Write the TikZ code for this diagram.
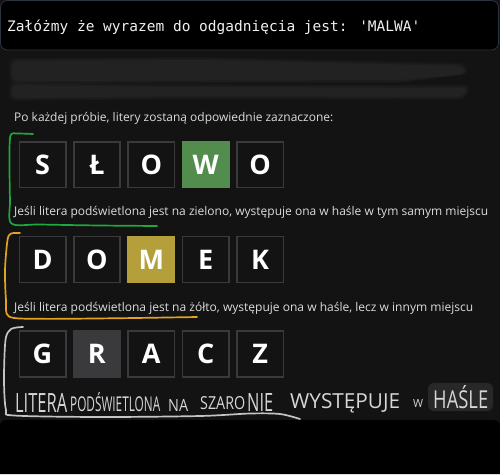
\documentclass[tikz,border=0pt]{standalone}
\usepackage{fontspec}
\setmainfont{Open Sans}
\newfontfamily\monof{DejaVu Sans Mono}
\newfontfamily\handf{Open Sans}
\usepackage{graphicx}
\definecolor{bgc}{HTML}{131313}
\definecolor{topb}{HTML}{2C3441}
\definecolor{titlec}{HTML}{F0F0F0}
\definecolor{blurc}{HTML}{222222}
\definecolor{tileb}{HTML}{3A3A3C}
\definecolor{wgreen}{HTML}{538D4E}
\definecolor{wyellow}{HTML}{B59F3B}
\definecolor{wgray}{HTML}{3A3A3C}
\definecolor{bodyc}{HTML}{DCDCDC}
\definecolor{greenl}{HTML}{1FA83C}
\definecolor{orangel}{HTML}{E3A21F}
\definecolor{grayl}{HTML}{C4C4C4}
\definecolor{handc}{HTML}{D6D6D6}
\definecolor{hlc}{HTML}{282828}
\tikzset{
  tile/.style={draw=tileb, line width=1.6pt, fill=bgc, minimum width=46.4pt, minimum height=45.8pt, inner sep=0pt, text=white, font=\bfseries\fontsize{27}{27}\selectfont},
  hit/.style={draw=#1, fill=#1},
  body/.style={text=bodyc, inner sep=0pt, anchor=west},
  hand/.style={text=handc, inner sep=0pt, anchor=base west},
  bracket/.style={line width=1.7pt, line cap=round, line join=round},
  blurstrip/.style={fill=blurc, opacity=#1}
}
\begin{document}
\begin{tikzpicture}[x=1pt,y=-1pt]
\useasboundingbox (0,0) rectangle (500,474);
\fill[bgc] (0,0) rectangle (500,474);
% title bar
\draw[topb, line width=0.8pt, fill=black, rounded corners=7pt] (0.5,0.5) rectangle (498.5,50);
\node[anchor=west, text=titlec, inner sep=0pt, font=\monof\fontsize{14.5}{16}\selectfont] (title) at (7,27) {Załóżmy że wyrazem do odgadnięcia jest: 'MALWA'};
% blurred lines (soft layers)
\foreach \o/\d in {0.35/3, 0.5/1.5, 1/0} {
  \fill[blurstrip=\o, rounded corners=7pt] (12-\d,61-\d) -- (200,60-\d) -- (462+\d,66-\d) -- (466+\d,74) -- (400,80+\d) -- (12-\d,81+\d) -- cycle;
  \fill[blurstrip=\o, rounded corners=6pt] (12-\d,85-\d) -- (150,87-\d) -- (468+\d,88-\d) -- (462+\d,97+\d) -- (200,96+\d) -- (12-\d,98+\d) -- cycle;
}
% intro text
\node[body] (intro) at (14,118.3) {\resizebox{319pt}{!}{Po każdej próbie, litery zostaną odpowiednie zaznaczone:}};
% row 1
\node[tile] (t11) at (42.5,164.6) {S};
\node[tile] (t12) at (96.9,164.6) {Ł};
\node[tile] (t13) at (151.3,164.6) {O};
\node[tile, hit=wgreen] (t14) at (205.7,164.6) {W};
\node[tile] (t15) at (260.1,164.6) {O};
\node[body] (l1) at (14,212.7) {\resizebox{474pt}{!}{Jeśli litera podświetlona jest na zielono, występuje ona w haśle w tym samym miejscu}};
% row 2
\node[tile] (t21) at (42.5,259.5) {D};
\node[tile] (t22) at (96.9,259.5) {O};
\node[tile, hit=wyellow] (t23) at (151.3,259.5) {M};
\node[tile] (t24) at (205.7,259.5) {E};
\node[tile] (t25) at (260.1,259.5) {K};
\node[body] (l2) at (14,308) {\resizebox{459pt}{!}{Jeśli litera podświetlona jest na żółto, występuje ona w haśle, lecz w innym miejscu}};
% row 3
\node[tile] (t31) at (42.5,353.8) {G};
\node[tile, hit=wgray] (t32) at (96.9,353.8) {R};
\node[tile] (t33) at (151.3,353.8) {A};
\node[tile] (t34) at (205.7,353.8) {C};
\node[tile] (t35) at (260.1,353.8) {Z};
% highlight behind HASLE
\fill[hlc, rounded corners=6pt] (428,383) rectangle (493,411);
% handwritten words
\node[hand] (h1) at (15,412) {\resizebox{52pt}{19pt}{\handf LITERA}};
\node[hand] (h2) at (70,411) {\resizebox{90pt}{19pt}{\handf PODŚWIETLONA}};
\node[hand] (h3) at (168,411) {\resizebox{20pt}{12pt}{\handf NA}};
\node[hand] (h4) at (200,409) {\resizebox{45pt}{13pt}{\handf SZARO}};
\node[hand] (h5) at (247,411) {\resizebox{26pt}{18pt}{\handf NIE}};
\node[hand] (h6) at (290,408) {\resizebox{110pt}{15pt}{\handf WYSTĘPUJE}};
\node[hand] (h7) at (413,407) {\resizebox{10pt}{8pt}{\handf W}};
\node[hand] (h8) at (433,408) {\resizebox{55pt}{23pt}{\handf HAŚLE}};
% brackets
\draw[bracket, greenl] plot[smooth, tension=0.5] coordinates {(33,134) (18,133.6) (10.5,135.5) (9.5,160) (10,200) (11.5,223.5) (40,224.5) (100,225.5) (157,226)};
\draw[bracket, orangel] plot[smooth, tension=0.5] coordinates {(20,233) (11,233.6) (7.5,240) (5,270) (6,300) (9,316.5) (40,318.8) (120,318.2) (197,317)};
\draw[bracket, grayl] plot[smooth, tension=0.5] coordinates {(23,327) (11,329) (5.5,340) (4,380) (6,410) (14,415.5) (100,417) (200,416) (250,413.5) (280,414) (300,419)};
% bottom panel
\fill[black] (0,474) [rounded corners=6pt] -- (0,420) -- (500,420) [sharp corners] -- (500,474) -- cycle;
\end{tikzpicture}
\end{document}
